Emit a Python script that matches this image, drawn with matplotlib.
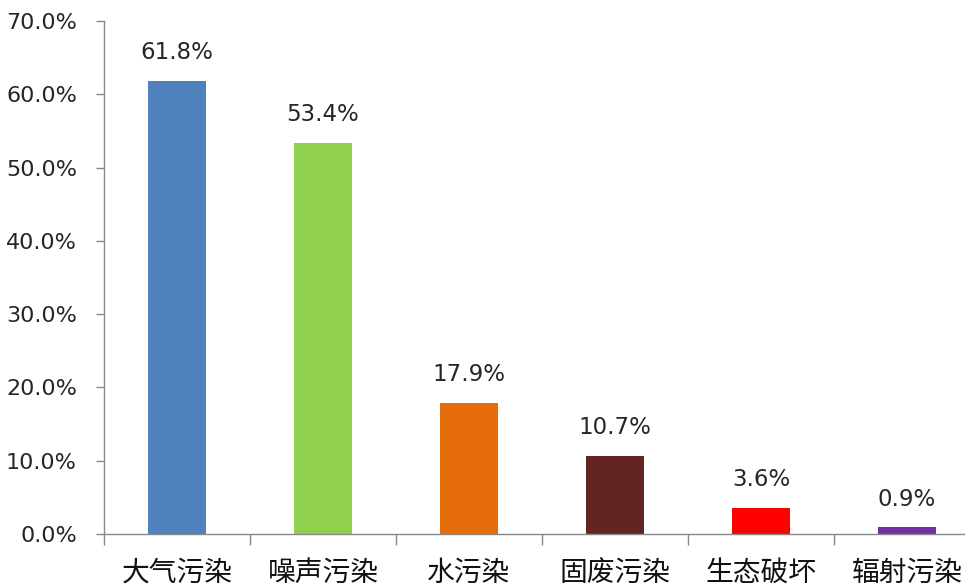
import matplotlib
matplotlib.use("Agg")
import matplotlib.pyplot as plt
import numpy as np

plt.rcParams['font.family'] = ['DejaVu Sans', 'Noto Sans CJK SC']

categories = ["大气污染", "噪声污染", "水污染", "固废污染", "生态破坏", "辐射污染"]
values = [61.8, 53.4, 17.9, 10.7, 3.6, 0.9]
colors = ["#4F81BD", "#92D050", "#E46C0A", "#632523", "#FF0000", "#7030A0"]
yticks = [0, 10, 20, 30, 40, 50, 60, 70]

fig = plt.figure(figsize=(9.79, 5.88), dpi=100)
ax = fig.add_axes([104/979, 1-534/588, (964-104)/979, (534-21)/588])

x = np.arange(len(categories))
ax.bar(x, values, width=0.4, color=colors, zorder=2)

for xi, v in zip(x, values):
    ax.annotate(f"{v:.1f}%", (xi, v), xytext=(0, 12), textcoords="offset points",
                ha="center", va="bottom", fontsize=16.5, color="#262626")

ax.set_xlim(-0.5, 5 + (964-907)/146)
ax.set_ylim(0, 70)
ax.set_yticks(yticks)
ax.set_yticklabels([f"{t:.1f}%" for t in yticks], fontsize=16, color="#262626")

ax.set_xticks(x)
ax.set_xticklabels(categories, fontsize=20, family=['Noto Sans CJK SC', 'DejaVu Sans'], color="#111111")
ax.tick_params(axis='x', which='major', length=0, pad=17)
ax.set_xticks(np.arange(-0.5, 5.0, 1.0), minor=True)
ax.tick_params(axis='x', which='minor', length=8, direction='out', color="#888888", width=1)
ax.tick_params(axis='y', length=5.8, direction='out', color="#888888", width=1, pad=13.7)

for s in ['top', 'right']:
    ax.spines[s].set_visible(False)
for s in ['left', 'bottom']:
    ax.spines[s].set_color("#888888")
    ax.spines[s].set_linewidth(1)

fig.savefig("out.png", dpi=100, facecolor="white")
